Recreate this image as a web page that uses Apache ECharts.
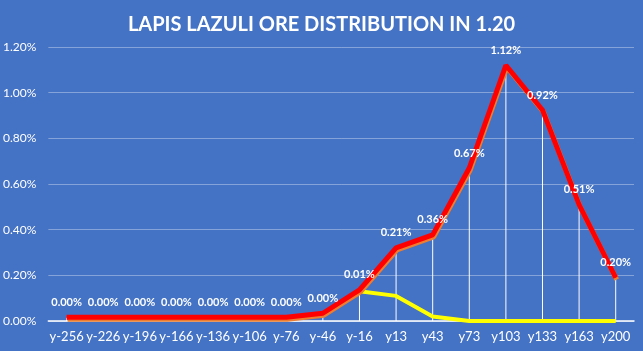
<!DOCTYPE html>
<html lang="en">
<head>
    <meta charset="UTF-8">
    <title>Lapis Lazuli</title>
    <script src="https://cdn.jsdelivr.net/npm/echarts@6/dist/echarts.min.js"></script>
</head>
<style type="text/css">
    html,body,#chart{
        width: 643px;
        height: 351px;
        margin: 0;
        padding: 0;
        background: #4472C4;
    }
</style>
<body>
<div id="chart"></div>
<script>
    // y levels
    var levels = ['y-256','y-226','y-196','y-166','y-136','y-106','y-76','y-46','y-16','y13','y43','y73','y103','y133','y163','y200'];
    // labelled share (%) per level
    var shares = [0,0,0,0,0,0,0,0,0.01,0.21,0.36,0.67,1.12,0.92,0.51,0.20];
    // red line as drawn (%)
    var totals = [0.016,0.016,0.016,0.016,0.016,0.016,0.016,0.034,0.136,0.32,0.377,0.67,1.12,0.924,0.51,0.19];
    // yellow line (%)
    var yellow = [null,null,null,null,null,null,null,null,0.13,0.11,0.02,0,0,0,0,0];

    var font = 'Lato';
    var myChart = echarts.init(document.getElementById('chart'));
    var options = {
        backgroundColor: '#4472C4',
        animation: false,
        title: {
            text: 'LAPIS LAZULI ORE DISTRIBUTION IN 1.20',
            left: 'center',
            top: 10,
            textStyle: {
                color: '#fff',
                fontFamily: font,
                fontWeight: 'bold',
                fontSize: 20
            }
        },
        grid: {
            left: 47,
            right: 9,
            top: 47,
            bottom: 30
        },
        xAxis: {
            type: 'category',
            data: levels,
            boundaryGap: true,
            axisLine: {
                lineStyle: {color: '#fff', width: 1.5}
            },
            axisTick: {show: false},
            axisLabel: {
                color: '#fff',
                fontFamily: font,
                fontSize: 13,
                margin: 9,
                interval: 0
            }
        },
        yAxis: {
            type: 'value',
            min: 0,
            max: 1.2,
            interval: 0.2,
            axisLine: {show: false},
            axisTick: {show: false},
            axisLabel: {
                color: '#fff',
                fontFamily: font,
                fontSize: 12,
                margin: 12,
                formatter: function (v) {
                    return v.toFixed(2) + '%';
                }
            },
            splitLine: {
                lineStyle: {color: 'rgba(255,255,255,0.35)', width: 1}
            }
        },
        series: [{
            name: 'drop',
            type: 'bar',
            barWidth: 1,
            itemStyle: {color: '#fff'},
            data: totals,
            z: 1
        }, {
            name: 'yellow',
            type: 'line',
            symbol: 'none',
            lineStyle: {color: '#FFFF00', width: 4},
            data: yellow,
            z: 3
        }, {
            name: 'total',
            type: 'line',
            symbol: 'circle',
            symbolSize: 1,
            showSymbol: true,
            itemStyle: {color: '#FF0000'},
            lineStyle: {
                color: '#FF0000',
                width: 5,
                shadowColor: '#ED7D31',
                shadowBlur: 0,
                shadowOffsetX: 1,
                shadowOffsetY: 2
            },
            label: {
                show: true,
                position: 'top',
                distance: 9,
                color: '#fff',
                fontFamily: font,
                fontWeight: 'bold',
                fontSize: 11,
                formatter: function (p) {
                    return shares[p.dataIndex].toFixed(2) + '%';
                }
            },
            data: totals,
            z: 4
        }]
    };
    myChart.setOption(options);
</script>
</body>
</html>
